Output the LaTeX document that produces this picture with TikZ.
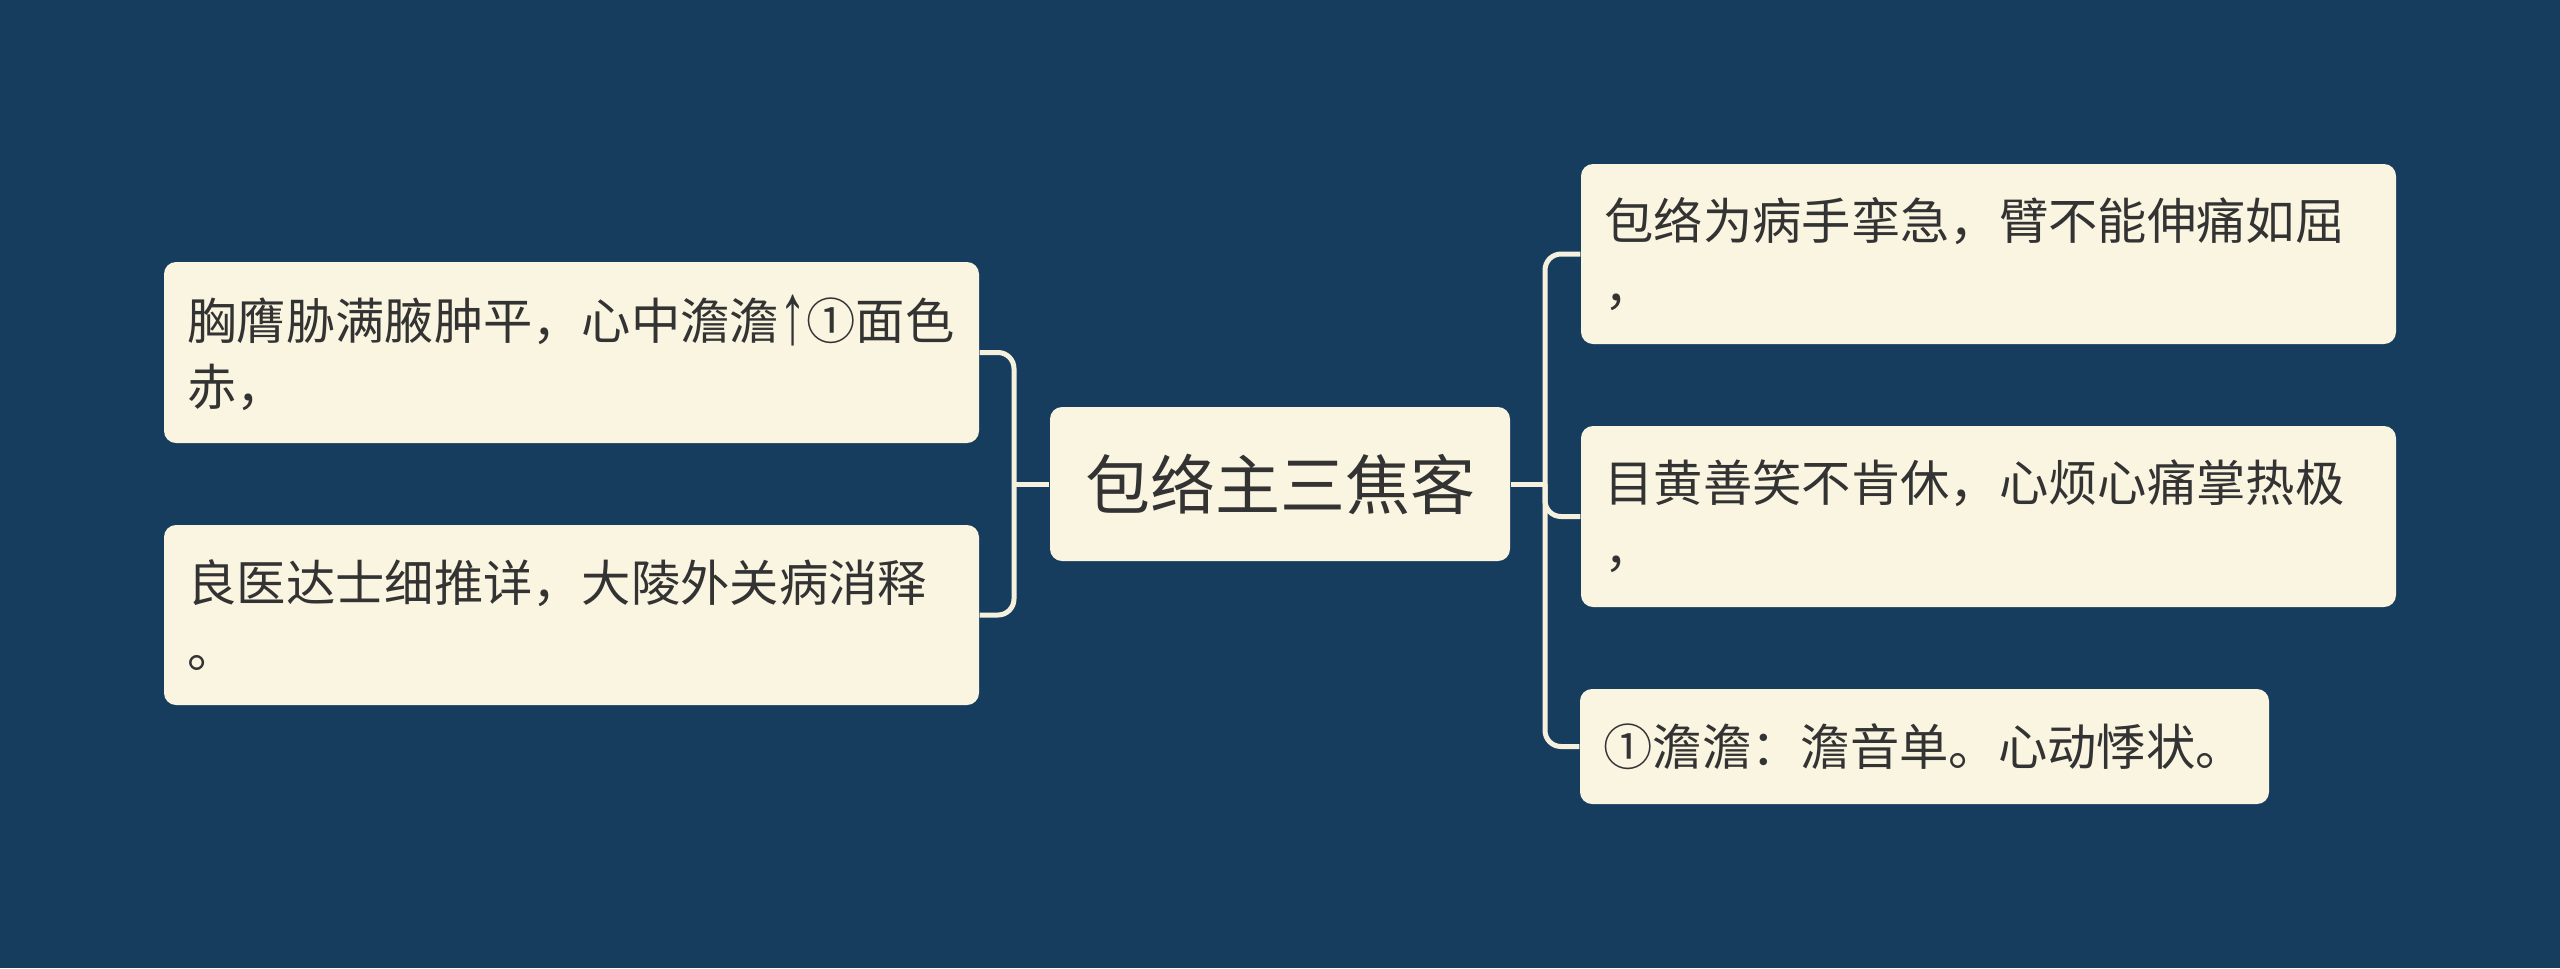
\documentclass[tikz,border=0pt]{standalone}
\usepackage{graphicx}
\usepackage{fontspec}
\setmainfont{Noto Sans CJK SC}
\newfontfamily\arrowfont{Liberation Sans}
\newcommand{\myuparrow}{\raisebox{-1.2pt}{\scalebox{1.1}[1.75]{\arrowfont ↑}}}
\definecolor{bgc}{HTML}{173D5E}
\definecolor{boxc}{HTML}{FAF5E1}
\definecolor{linec}{HTML}{F6F1DE}
\definecolor{txtc}{HTML}{333333}
\begin{document}
\begin{tikzpicture}[x=0.3pt,y=-0.3pt,
  box/.style={fill=boxc, rounded corners=3.6pt, text=txtc, align=left,
    inner sep=0pt, inner xsep=7pt, anchor=center,
    font=\fontsize{14.8pt}{19.8pt}\selectfont},
  hub/.style={fill=boxc, rounded corners=3.6pt, text=txtc,
    inner sep=0pt, anchor=center, font=\fontsize{19.5pt}{24pt}\selectfont},
  conn/.style={draw=linec, line width=1.5pt, rounded corners=4.8pt}]
\fill[bgc] (0,0) rectangle (2560,968);
\useasboundingbox (0,0) rectangle (2560,968);

\node[hub, minimum width=138pt, minimum height=46.2pt] (C) at (1280,484) {包络主三焦客};

\node[box, text width=230.5pt, minimum height=54.3pt] (L1) at (571.5,352.5)
  {胸膺胁满腋肿平，心中澹澹\myuparrow ①面色\\赤，};
\node[box, text width=230.5pt, minimum height=54pt] (L2) at (571.5,615)
  {良医达士细推详，大陵外关病消释\\。};

\node[box, text width=230.5pt, minimum height=54pt] (R1) at (1988.5,254)
  {包络为病手挛急，臂不能伸痛如屈\\，};
\node[box, text width=230.5pt, minimum height=54.3pt] (R2) at (1988.5,516.5)
  {目黄善笑不肯休，心烦心痛掌热极\\，};
\node[box, text width=192.7pt, minimum height=34.5pt] (R3) at (1924.5,746.5)
  {①澹澹：澹音单。心动悸状。};

\coordinate (tR) at (1545,484);
\coordinate (tL) at (1014,484);

\draw[conn] (C.east) -- (tR);
\draw[conn] (tR) |- (R1.west);
\draw[conn] (tR) |- (R2.west);
\draw[conn] (tR) |- (R3.west);

\draw[conn] (C.west) -- (tL);
\draw[conn] (tL) |- (L1.east);
\draw[conn] (tL) |- (L2.east);
\end{tikzpicture}
\end{document}
